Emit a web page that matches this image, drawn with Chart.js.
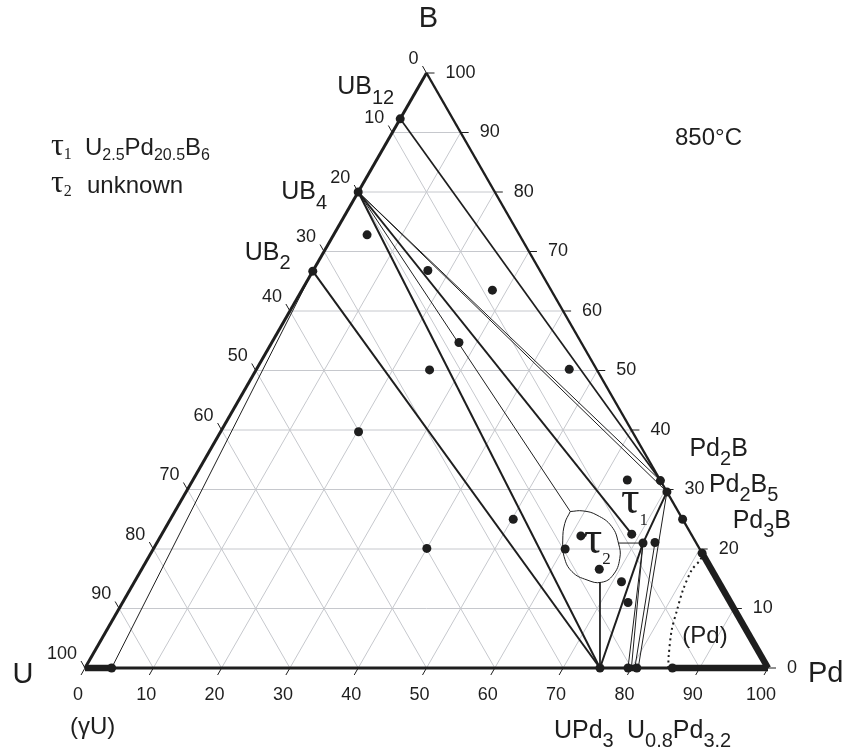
<!DOCTYPE html>
<html><head><meta charset="utf-8">
<script src="https://cdn.jsdelivr.net/npm/chart.js@4"></script>
<style>html,body{margin:0;padding:0;background:#fff}canvas{display:block}</style>
</head><body>
<canvas id="c" width="845" height="756"></canvas>
<script>
// ---- data (at.% Pd, at.% B; U = 100 - Pd - B) ----
const gridTicks = [10,20,30,40,50,60,70,80,90];
const tickValues = [0,10,20,30,40,50,60,70,80,90,100];
const tickLabels = ['0','10','20','30','40','50','60','70','80','90','100'];

const compoundNames = ['UB12','UB4','UB2','Pd2B','Pd2B5','Pd3B','UPd3','U0.8Pd3.2 a','U0.8Pd3.2 b','γU','(Pd) B-end','(Pd) U-end'];
const compoundPd = [0, 0, 0, 68.5, 70.4, 75.0, 75.4, 79.5, 80.8, 3.9, 80.7, 86.0];
const compoundB  = [92.3, 80, 66.7, 31.5, 29.6, 25.0, 0, 0, 0, 0, 19.3, 0];

const samplePd = [4.9, 16.8, 27.9, 27.4, 25.4, 20.2, 50.2, 40.0, 45.8, 63.6, 68.8, 71.2, 72.9, 60.3, 61.5, 67.0, 71.3, 74.0];
const sampleB  = [72.8, 66.8, 63.5, 54.7, 50.1, 39.7, 25.0, 20.1, 50.2, 31.6, 22.5, 21.0, 21.1, 20.0, 22.2, 16.6, 14.5, 11.0];

const tau1 = [71.2, 21.0];
const tau2 = [61.5, 22.2];

// tie lines [Pd1, B1, Pd2, B2]
const heavyTies = [
  [0, 66.7, 75.4, 0],
  [0, 80, 75.4, 0],
  [0, 80, 68.8, 22.5],
  [71.2, 21.0, 75.4, 0],
  [71.2, 21.0, 70.4, 29.6]
];
const mediumTies = [
  [0, 92.3, 68.5, 31.5]
];
const lightTies = [
  [3.9, 0, 0, 66.7],
  [0, 80, 57.9, 26.3],
  [0, 80, 70.4, 29.6],
  [0, 80, 68.5, 31.5],
  [68.2, 14.4, 75.4, 0],
  [67.6, 21.0, 71.2, 21.0],
  [71.2, 21.0, 79.5, 0],
  [71.2, 21.0, 80.0, 0],
  [72.9, 21.1, 80.5, 0],
  [70.4, 29.6, 81.0, 0]
];

// tau2 region outline
const loopPd = [57.9, 59.7, 62.1, 65.2, 67.6, 69.1, 69.5, 68.4, 66.1, 63.2, 60.8, 59.2, 58.1, 57.9];
const loopB  = [26.3, 26.4, 25.7, 23.8, 21.0, 18.4, 15.6, 14.4, 14.8, 16.2, 18.7, 21.5, 24.3, 26.3];

// (Pd) solid solution boundary (dotted)
const pdBoundPd = [85.4, 84.5, 82.7, 81.8, 81.0, 80.6, 81.0, 80.7];
const pdBoundB  = [0, 1.9, 6.4, 9.8, 13.1, 16.5, 18.2, 19.3];

// homogeneity ranges drawn heavy
const solidPd = [[0, 3.9], [86.0, 100], [80.7, 100], [79.5, 80.8]];
const solidB  = [[0, 0], [0, 0], [19.3, 0], [0, 0]];

// ---- build ----
const T = (pd, b) => ({x: pd + b / 2, y: b});
const INK = '#1e1e1e';
const datasets = [];
function addLine(pts, width, color, extra) {
  datasets.push(Object.assign({
    data: pts, showLine: true, pointRadius: 0, borderColor: color, borderWidth: width,
    fill: false, clip: false, tension: 0, order: 1
  }, extra || {}));
}
// grid
gridTicks.forEach(t => {
  addLine([T(0, t), T(100 - t, t)], 1, '#c6c8cd', {order: 3});
  addLine([T(t, 0), T(t, 100 - t)], 1, '#c6c8cd', {order: 3});
  addLine([T(0, 100 - t), T(100 - t, 0)], 1, '#c6c8cd', {order: 3});
});
// triangle edges
addLine([T(0, 0), T(100, 0)], 2.8, INK, {order: 2});
addLine([T(0, 0), T(0, 100)], 3, INK, {order: 2});
addLine([T(100, 0), T(0, 100)], 2.4, INK, {order: 2});
// ties
heavyTies.forEach(s => addLine([T(s[0], s[1]), T(s[2], s[3])], 2, INK));
mediumTies.forEach(s => addLine([T(s[0], s[1]), T(s[2], s[3])], 1.7, INK));
lightTies.forEach(s => addLine([T(s[0], s[1]), T(s[2], s[3])], 1, INK));
// loop
addLine(loopPd.map((p, i) => T(p, loopB[i])), 1, INK, {tension: 0.45});
// dotted boundary
addLine(pdBoundPd.map((p, i) => T(p, pdBoundB[i])), 2, INK, {borderDash: [2, 3.5], tension: 0.3});
// heavy solid solutions
solidPd.forEach((r, i) => addLine([T(r[0], solidB[i][0]), T(r[1], solidB[i][1])], 6.5, INK, {order: 1}));
// points
const pts = compoundPd.map((p, i) => T(p, compoundB[i])).concat(samplePd.map((p, i) => T(p, sampleB[i])));
datasets.unshift({data: pts, pointRadius: 4.5, pointBackgroundColor: INK, pointBorderWidth: 0, showLine: false, clip: false, order: 0});

function drawRich(ctx, x, y, parts, size, subSize, drop, family) {
  let cx = x;
  parts.forEach(pt => {
    const sub = pt[1] === 's';
    const fam = pt[2] || family;
    ctx.font = (sub ? subSize : size) + 'px ' + fam;
    ctx.fillText(pt[0], cx, sub ? y + drop : y);
    cx += ctx.measureText(pt[0]).width;
  });
}

const SANS = '"Liberation Sans", Arial, Helvetica, sans-serif';
const SERIF = '"Liberation Serif", "DejaVu Serif", "Times New Roman", serif';

const ternaryText = {
  id: 'ternaryText',
  afterDatasetsDraw(chart) {
    const ctx = chart.ctx, xs = chart.scales.x, ys = chart.scales.y;
    const P = (pd, b) => ({x: xs.getPixelForValue(pd + b / 2), y: ys.getPixelForValue(b)});
    const line = (x1, y1, x2, y2) => { ctx.beginPath(); ctx.moveTo(x1, y1); ctx.lineTo(x2, y2); ctx.stroke(); };
    ctx.save();
    ctx.strokeStyle = INK; ctx.fillStyle = INK; ctx.lineWidth = 1;
    ctx.font = '18px ' + SANS;
    tickValues.forEach((v, i) => {
      let p = P(v, 0);
      line(p.x, p.y, p.x - 4, p.y + 7);
      ctx.textAlign = 'center'; ctx.textBaseline = 'alphabetic';
      ctx.fillText(tickLabels[i], p.x - 7, p.y + 32);
      p = P(0, 100 - v);
      line(p.x, p.y, p.x - 4, p.y - 7);
      ctx.textAlign = 'right'; ctx.textBaseline = 'middle';
      ctx.fillText(tickLabels[i], p.x - 8, p.y - 14);
      p = P(100 - v, v);
      line(p.x, p.y, p.x + 8, p.y);
      ctx.textAlign = 'left';
      ctx.fillText(tickLabels[i], p.x + 19, p.y);
    });
    ctx.textAlign = 'left'; ctx.textBaseline = 'alphabetic';
    const C = i => P(compoundPd[i], compoundB[i]);
    // vertex labels
    const vB = P(0, 100), vU = P(0, 0), vPd = P(100, 0);
    ctx.font = '29px ' + SANS;
    ctx.textAlign = 'center';
    ctx.fillText('B', vB.x + 2, vB.y - 46);
    ctx.fillText('U', vU.x - 62, vU.y + 15);
    ctx.textAlign = 'left';
    ctx.fillText('Pd', vPd.x + 40, vPd.y + 14);
    // phase labels
    let p;
    p = C(0); drawRich(ctx, p.x - 63, p.y - 25, [['UB'], ['12', 's']], 25, 20, 10, SANS);
    p = C(1); drawRich(ctx, p.x - 77, p.y + 7, [['UB'], ['4', 's']], 25, 20, 10, SANS);
    p = C(2); drawRich(ctx, p.x - 68, p.y - 11, [['UB'], ['2', 's']], 25, 20, 9, SANS);
    p = C(3); drawRich(ctx, p.x + 29, p.y - 25, [['Pd'], ['2', 's'], ['B']], 25, 20, 9, SANS);
    p = C(4); drawRich(ctx, p.x + 42, p.y + 0, [['Pd'], ['2', 's'], ['B'], ['5', 's']], 25, 20, 9, SANS);
    p = C(5); drawRich(ctx, p.x + 50, p.y + 9, [['Pd'], ['3', 's'], ['B']], 25, 20, 9, SANS);
    p = C(6); drawRich(ctx, p.x - 46, p.y + 70, [['UPd'], ['3', 's']], 25, 20, 9, SANS);
    p = C(7); drawRich(ctx, p.x - 1, p.y + 70, [['U'], ['0.8', 's'], ['Pd'], ['3.2', 's']], 25, 20, 9, SANS);
    ctx.font = '24px ' + SANS; ctx.fillText('(γU)', vU.x - 15, vU.y + 66);
    ctx.textAlign = 'center'; ctx.textBaseline = 'middle';
    ctx.fillText('(Pd)', vPd.x - 63, vPd.y - 32);
    ctx.textAlign = 'left'; ctx.textBaseline = 'alphabetic';
    // tau labels
    p = P(tau1[0], tau1[1]);
    drawRich(ctx, p.x - 22, p.y - 30, [['τ'], ['1', 's']], 46, 17, 12, SERIF);
    p = P(tau2[0], tau2[1]);
    drawRich(ctx, p.x + 3, p.y + 17, [['τ'], ['2', 's']], 46, 17, 11, SERIF);
    // temperature
    ctx.font = '24px ' + SANS; ctx.textAlign = 'center';
    ctx.fillText('850°C', vB.x + 282, vB.y + 72);
    ctx.textAlign = 'left';
    // legend
    drawRich(ctx, 51, 155, [['τ'], ['1', 's']], 32, 16, 4, SERIF);
    drawRich(ctx, 85, 155, [['U'], ['2.5', 's'], ['Pd'], ['20.5', 's'], ['B'], ['6', 's']], 24, 16, 5, SANS);
    drawRich(ctx, 51, 192, [['τ'], ['2', 's']], 32, 16, 4, SERIF);
    ctx.font = '24px ' + SANS; ctx.fillText('unknown', 87, 193);
    ctx.restore();
  }
};

new Chart(document.getElementById('c'), {
  type: 'scatter',
  data: {datasets},
  options: {
    responsive: false, animation: false, devicePixelRatio: 1,
    layout: {padding: {left: 85, right: 77, top: 73, bottom: 88}},
    scales: {
      x: {type: 'linear', min: 0, max: 100, display: false},
      y: {type: 'linear', min: 0, max: 100, display: false}
    },
    plugins: {legend: {display: false}, tooltip: {enabled: false}},
    elements: {line: {borderCapStyle: 'butt'}}
  },
  plugins: [ternaryText]
});
</script>
</body></html>
